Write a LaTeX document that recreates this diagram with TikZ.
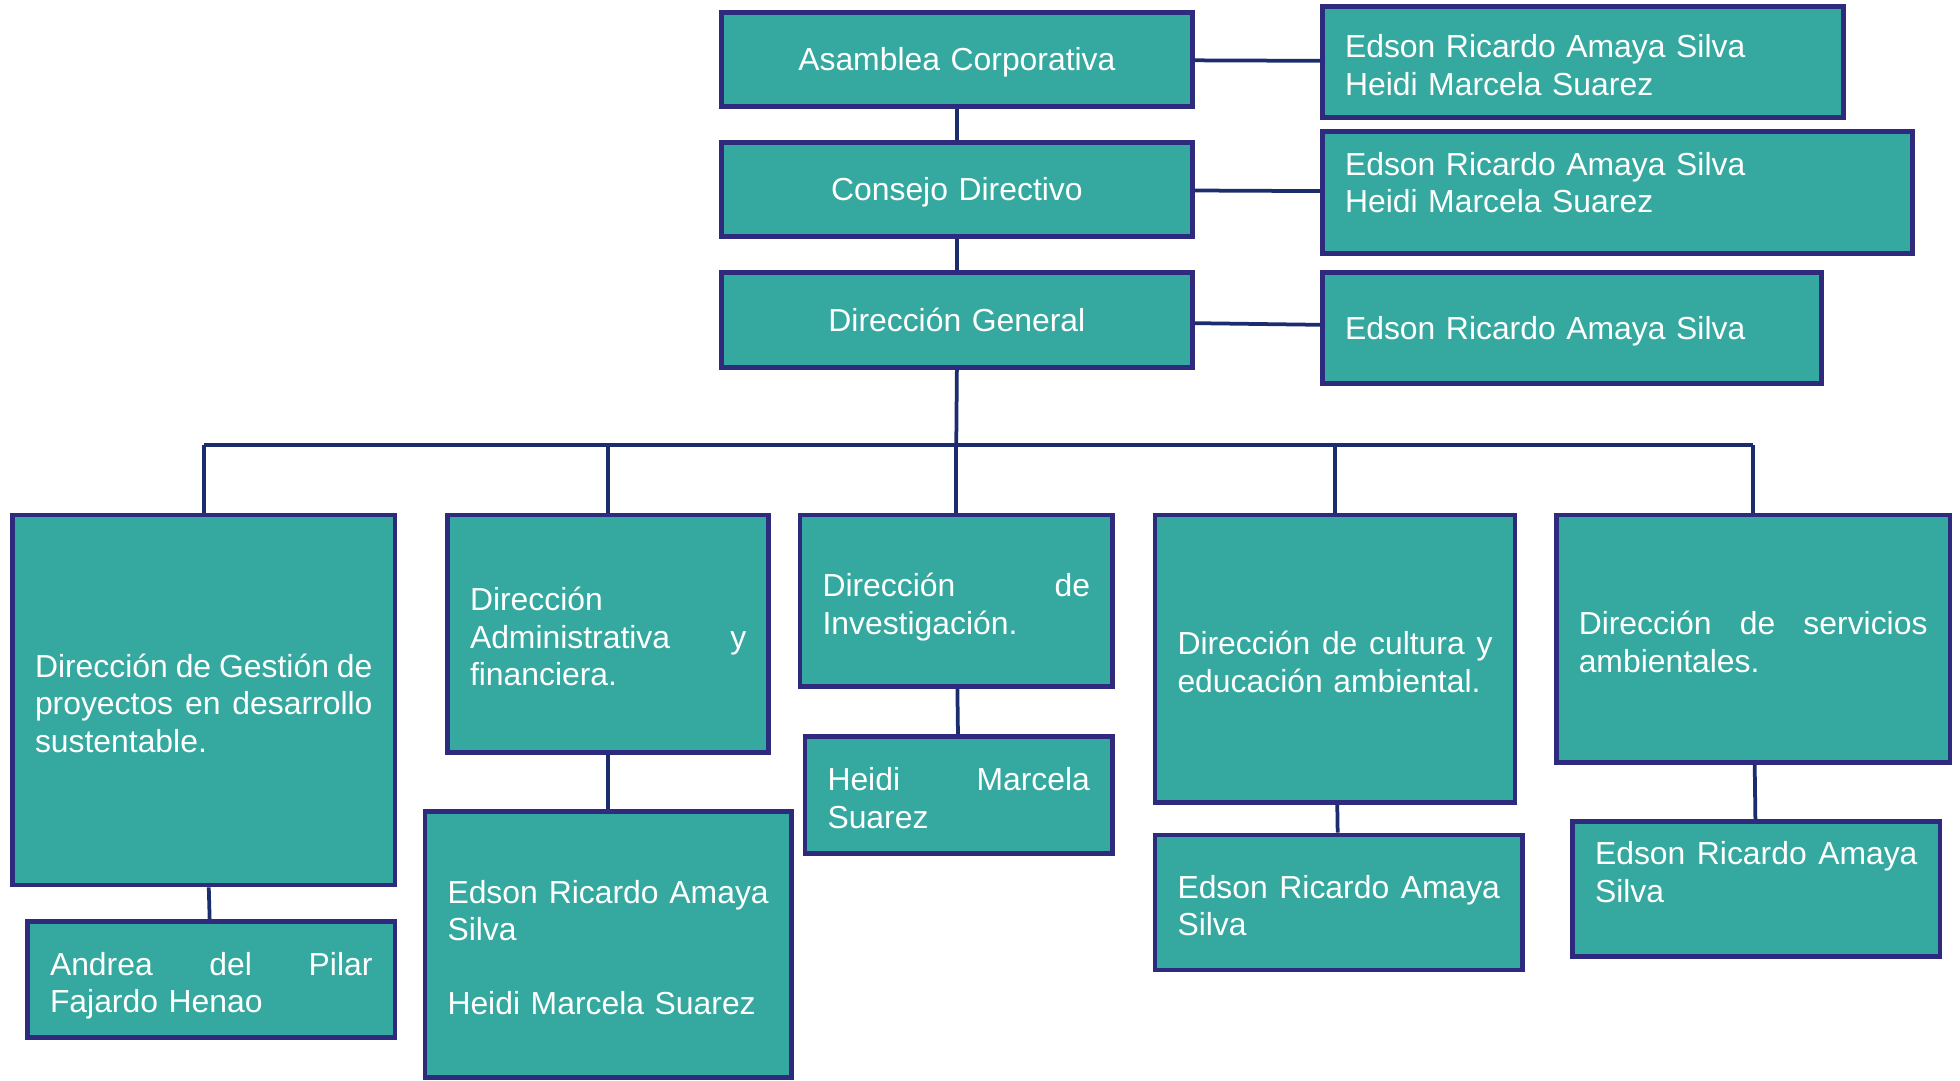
\documentclass[tikz,border=0pt]{standalone}
\usepackage{fontspec}
\setmainfont{Liberation Sans}
\usepackage{tikz}
\definecolor{boxfill}{HTML}{35A9A0}
\definecolor{boxline}{HTML}{2E2A7E}
\definecolor{linkline}{HTML}{1C2D6E}

\begin{document}
\begin{tikzpicture}[x=0.5pt,y=-0.5pt,
    office/.style ={rectangle, draw=boxline, fill=boxfill, line width=1.9pt, text=white,
      inner xsep=9pt, inner ysep=0pt, font=\fontsize{12.75pt}{15pt}\selectfont,
      execute at end node={\endgraf\vspace{-2.5pt}}},
    head/.style ={office, align=center, text width=170.5pt, minimum height=37.5pt},
    member/.style ={office, align=left},
    link/.style ={draw=linkline, line width=1.5pt}]
   \useasboundingbox (0,0) rectangle (1568,864);
   \node[head] (asam) at (765.5,47.5) {Asamblea Corporativa};
   \node[head] (cons) at (765.5,151.5) {Consejo Directivo\par\vspace{-2.5pt}};
   \node[head, minimum height=38pt] (dirg) at (765.5,256) {Dirección General};
   \node[member, text width=190.5pt, minimum height=44.5pt] (pasam) at (1266.5,49.5)
      {Edson Ricardo Amaya Silva\\Heidi Marcela Suarez};
   \node[member, text width=218pt, minimum height=49pt] (pcons) at (1294,154)
      {Edson Ricardo Amaya Silva\\Heidi Marcela Suarez\par\vspace{10.5pt}};
   \node[member, text width=181.5pt, minimum height=44.5pt] (pdirg) at (1257.5,262.5)
      {Edson Ricardo Amaya Silva};
   \node[member, text width=135pt, minimum height=148pt] (gest) at (163,560)
      {Dirección\hfill de\hfill Gestión\hfill de\\proyectos\hfill en\hfill desarrollo\\sustentable.};
   \node[member, text width=110.5pt, minimum height=95pt] (admin) at (486.5,507)
      {Dirección\\Administrativa\hfill y\\financiera.};
   \node[member, text width=107pt, minimum height=68.5pt] (inves) at (765,480.5)
      {Dirección\hfill de\\Investigación.\par\vspace{-2.5pt}};
   \node[member, text width=126pt, minimum height=115pt] (cult) at (1068,527)
      {Dirección\hfill de\hfill cultura\hfill y\\educación ambiental.};
   \node[member, text width=139.5pt, minimum height=99pt] (serv) at (1402.5,511)
      {Dirección\hfill de\hfill servicios\\ambientales.};
   \node[member, text width=129pt, minimum height=46.5pt] (pgest) at (169,783.5)
      {Andrea\hfill del\hfill Pilar\\Fajardo Henao\par\vspace{-2.5pt}};
   \node[member, text width=128.5pt, minimum height=106.5pt] (padmin) at (486.5,755.5)
      {Edson\hfill Ricardo\hfill Amaya\\Silva\\[14.5pt]Heidi Marcela Suarez};
   \node[member, text width=105pt, minimum height=47pt] (pinves) at (767,636)
      {Heidi\hfill Marcela\\Suarez};
   \node[member, text width=129pt, minimum height=54pt] (pcult) at (1071,722)
      {Edson\hfill Ricardo\hfill Amaya\\Silva};
   \node[member, text width=129pt, minimum height=54pt] (pserv) at (1405,711)
      {Edson\hfill Ricardo\hfill Amaya\\Silva\par\vspace{16pt}};
   \coordinate (bus) at (765,356);
   \draw[link] (asam) to (cons);
   \draw[link] (cons) to (dirg);
   \draw[link] (asam) to (pasam);
   \draw[link] (cons) to (pcons);
   \draw[link] (dirg) to (pdirg);
   \draw[link] (dirg.south) to (bus);
   \draw[link] (gest.north |- bus) to (serv.north |- bus);
   \draw[link] (gest.north |- bus) to (gest.north);
   \draw[link] (admin.north |- bus) to (admin.north);
   \draw[link] (inves.north |- bus) to (inves.north);
   \draw[link] (cult.north |- bus) to (cult.north);
   \draw[link] (serv.north |- bus) to (serv.north);
   \draw[link] (gest) to (pgest);
   \draw[link] (admin) to (padmin);
   \draw[link] (inves) to (pinves);
   \draw[link] (cult) to (pcult);
   \draw[link] (serv) to (pserv);
 \end{tikzpicture}
\end{document}
